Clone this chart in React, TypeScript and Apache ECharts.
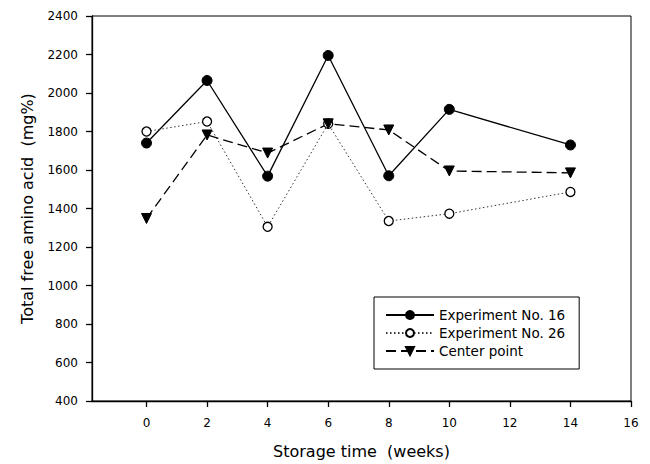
import React, { useEffect, useRef } from "react";
import * as echarts from "echarts";

const weeks = [0, 2, 4, 6, 8, 10, 14];
const exp16 = [1740, 2065, 1568, 2195, 1570, 1915, 1730];
const exp26 = [1800, 1852, 1305, 1840, 1335, 1373, 1486];
const centerPt = [1348, 1782, 1688, 1840, 1808, 1595, 1585];
const xTicks = [0, 2, 4, 6, 8, 10, 12, 14, 16];
const seriesNames = ["Experiment No. 16", "Experiment No. 26", "Center point"];

const FONT = "DejaVu Sans";

export default function App() {
  const ref = useRef<HTMLDivElement>(null);
  useEffect(() => {
    if (!ref.current) return;
    const chart = echarts.init(ref.current, undefined, { renderer: "svg" });
    const pair = (vals: number[]) => weeks.map((w, i) => [w, vals[i]]);
    chart.setOption({
      animation: false,
      backgroundColor: "#fff",
      grid: {
        left: 92,
        right: 19,
        top: 16,
        bottom: 60,
        show: true,
        borderColor: "#000",
        borderWidth: 1,
      },
      xAxis: {
        type: "value",
        min: -1.8,
        max: 16,
        name: "Storage time  (weeks)",
        nameLocation: "middle",
        nameGap: 42,
        nameTextStyle: { fontFamily: FONT, fontSize: 16, color: "#000" },
        axisLine: { show: true, onZero: false, lineStyle: { color: "#000", width: 1.3 } },
        axisTick: {
          show: true,
          length: 6,
          customValues: xTicks,
          lineStyle: { color: "#000", width: 1.3 },
        },
        axisLabel: {
          customValues: xTicks,
          margin: 16,
          fontFamily: FONT,
          fontSize: 12,
          color: "#000",
          formatter: (v: number) => String(v),
        },
        splitLine: { show: false },
      },
      yAxis: {
        type: "value",
        min: 400,
        max: 2400,
        interval: 200,
        name: "Total free amino acid  (mg%)",
        nameLocation: "middle",
        nameGap: 57,
        nameTextStyle: { fontFamily: FONT, fontSize: 16, color: "#000" },
        axisLine: { show: true, onZero: false, lineStyle: { color: "#000", width: 1.3 } },
        axisTick: { show: true, length: 6, lineStyle: { color: "#000", width: 1.3 } },
        axisLabel: {
          margin: 14,
          fontFamily: FONT,
          fontSize: 12,
          color: "#000",
          formatter: (v: number) => String(v),
        },
        splitLine: { show: false },
      },
      legend: {
        data: seriesNames,
        orient: "vertical",
        left: 374,
        top: 297,
        padding: [11, 14, 11, 11],
        itemWidth: 48,
        itemHeight: 10,
        itemGap: 4,
        borderColor: "#000",
        borderWidth: 1,
        backgroundColor: "#fff",
        textStyle: { fontFamily: FONT, fontSize: 13.5, color: "#000", lineHeight: 14 },
      },
      series: [
        {
          name: seriesNames[0],
          type: "line",
          data: pair(exp16),
          symbol: "circle",
          symbolSize: 10,
          lineStyle: { color: "#000", width: 1.3, type: "solid" },
          itemStyle: { color: "#000", borderColor: "#000", borderWidth: 1 },
        },
        {
          name: seriesNames[1],
          type: "line",
          data: pair(exp26),
          symbol: "circle",
          symbolSize: 9,
          lineStyle: { color: "#333", width: 1, type: [1.5, 2.5] },
          itemStyle: { color: "#fff", borderColor: "#000", borderWidth: 1.3 },
        },
        {
          name: seriesNames[2],
          type: "line",
          data: pair(centerPt),
          symbol: "triangle",
          symbolRotate: 180,
          symbolSize: 10,
          lineStyle: { color: "#000", width: 1.3, type: [10, 5] },
          itemStyle: { color: "#000", borderColor: "#000", borderWidth: 1 },
        },
      ],
    });
    return () => chart.dispose();
  }, []);
  return (
    <div
      ref={ref}
      style={{ position: "absolute", left: 0, top: 0, width: 650, height: 464 }}
    />
  );
}
